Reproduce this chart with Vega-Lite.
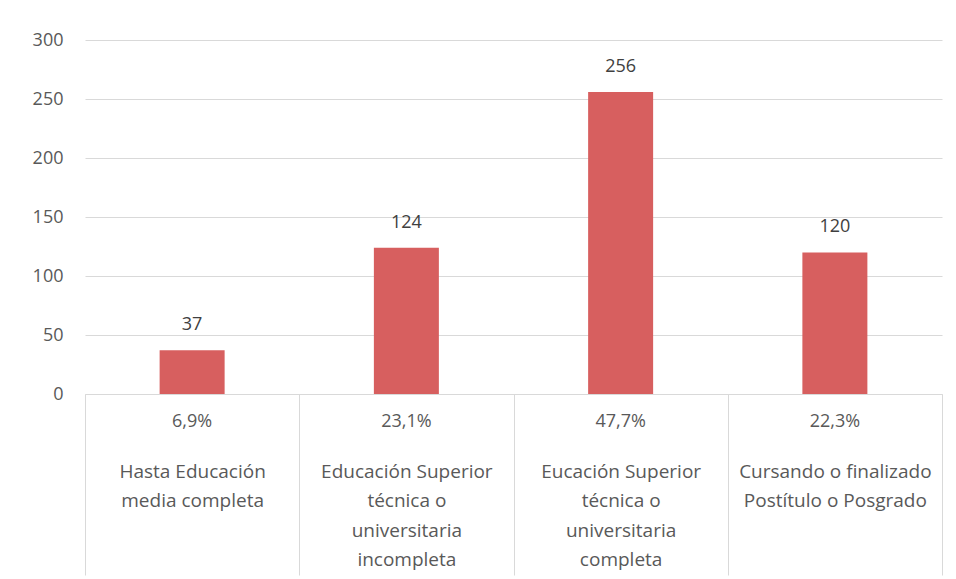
{
  "$schema": "https://vega.github.io/schema/vega-lite/v6.json",
  "width": 857,
  "height": 354,
  "autosize": {"type": "none"},
  "padding": {"left": 85, "top": 40, "right": 14, "bottom": 185},
  "background": "white",
  "config": {
    "view": {"stroke": null},
    "font": "Open Sans",
    "axis": {"labelFont": "Open Sans", "labelColor": "#595959", "labelFontSize": 19}
  },
  "data": {
    "values": [
      {"cat": "Hasta Educación|media completa", "n": 37, "pct": "6,9%"},
      {"cat": "Educación Superior|técnica o|universitaria|incompleta", "n": 124, "pct": "23,1%"},
      {"cat": "Eucación Superior|técnica o|universitaria|completa", "n": 256, "pct": "47,7%"},
      {"cat": "Cursando o finalizado|Postítulo o Posgrado", "n": 120, "pct": "22,3%"}
    ]
  },
  "encoding": {
    "x": {
      "field": "cat", "type": "nominal", "sort": null,
      "scale": {"paddingInner": 0, "paddingOuter": 0},
      "axis": {
        "title": null,
        "labelAngle": 0,
        "labelExpr": "split(datum.label, '|')",
        "labelLineHeight": 29.5,
        "labelBaseline": "top",
        "tickBand": "extent",
        "tickSize": 181,
        "tickColor": "#d9d9d9",
        "tickWidth": 1,
        "domainColor": "#d9d9d9",
        "labelPadding": -113,
        "labelLimit": 300
      }
    }
  },
  "layer": [
    {
      "mark": {"type": "bar", "width": 65, "color": "#D75F5F"},
      "encoding": {
        "y": {
          "field": "n", "type": "quantitative",
          "scale": {"domain": [0, 300]},
          "axis": {
            "title": null,
            "values": [0, 50, 100, 150, 200, 250, 300],
            "domain": false,
            "ticks": false,
            "gridColor": "#d9d9d9",
            "labelFontSize": 18,
            "labelPadding": 22
          }
        }
      }
    },
    {
      "mark": {"type": "text", "baseline": "middle", "dy": -25, "fontSize": 18, "color": "#404040", "font": "Open Sans"},
      "encoding": {
        "y": {"field": "n", "type": "quantitative"},
        "text": {"field": "n", "type": "quantitative"}
      }
    },
    {
      "mark": {"type": "text", "baseline": "middle", "dy": 28, "fontSize": 18, "color": "#595959", "font": "Open Sans"},
      "encoding": {
        "y": {"datum": 0, "type": "quantitative"},
        "text": {"field": "pct", "type": "nominal"}
      }
    }
  ]
}
